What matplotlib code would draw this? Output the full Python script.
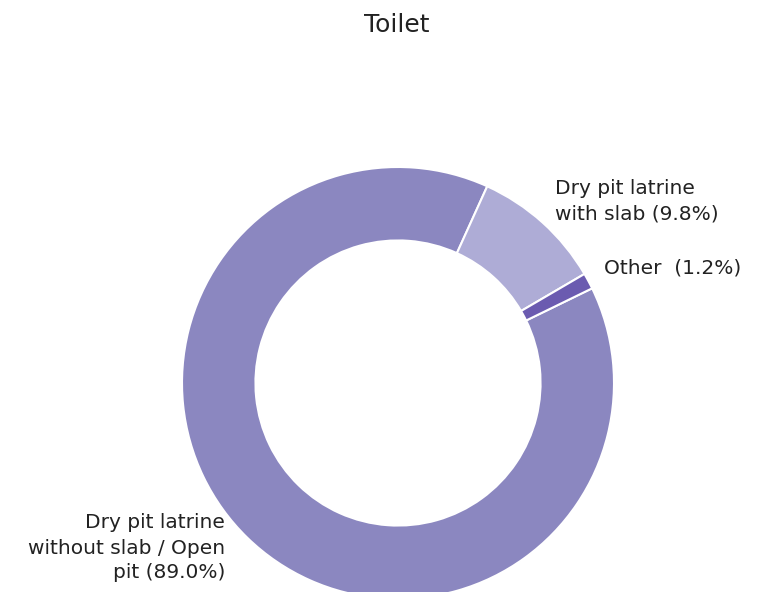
import matplotlib
matplotlib.use("Agg")
import matplotlib.pyplot as plt

# Toilet facility shares (%)
categories = ["Dry pit latrine\nwithout slab / Open\npit", "Dry pit latrine\nwith slab", "Other "]
shares = [89.0, 9.8, 1.2]
colors = ["#8b87c0", "#aeacd6", "#6b5bb0"]

plt.rcParams["font.family"] = ["DejaVu Sans"]

W, H = 762, 592
fig = plt.figure(figsize=(W / 100, H / 100), dpi=100)
ax = fig.add_axes([0, 0, 1, 1])

cx, cy, r = 398, H - 383, 216
ax.pie(shares, colors=colors, startangle=26, counterclock=False,
       center=(cx, cy), radius=r, frame=True,
       wedgeprops=dict(width=r * 0.34, edgecolor="white", linewidth=1.5))
ax.set_xlim(0, W)
ax.set_ylim(0, H)
ax.set_aspect("equal")
ax.axis("off")

labels = [f"{c} ({s:.1f}%)" for c, s in zip(categories, shares)]
txt = dict(fontsize=14.5, color="#222222", linespacing=1.4)
ax.text(225, H - 548, labels[0], ha="right", va="center", **txt)
ax.text(555, H - 201, labels[1], ha="left", va="center", **txt)
ax.text(604, H - 268, labels[2], ha="left", va="center", **txt)

fig.text(397 / W, 1 - 25 / H, "Toilet", ha="center", va="center",
         fontsize=18, color="#222222")

fig.savefig("out.png", dpi=100)
